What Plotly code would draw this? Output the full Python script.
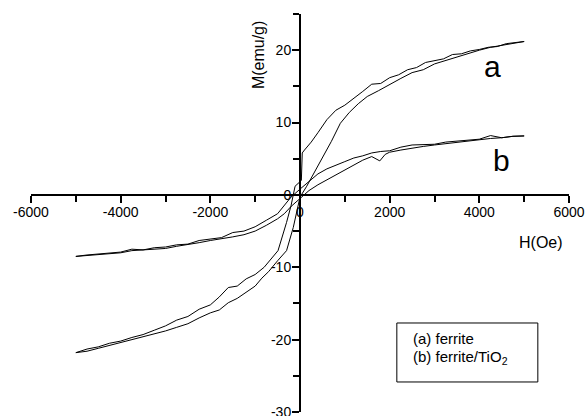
import plotly.graph_objects as go

# ---- data (H in Oe, M in emu/g) ----
a_desc_H = [5000, 4800, 4600, 4400, 4200, 4000, 3800, 3600, 3400, 3200, 3000, 2800, 2600, 2400, 2200, 2000,
            1800, 1600, 1400, 1200, 1000, 800, 600, 400, 250, 100, 50, 30, -60, -110, -200, -300, -490, -800,
            -1000, -1200, -1400, -1600, -1800, -2000, -2250, -2500, -2750, -3000, -3250, -3500, -3750, -4000,
            -4250, -4500, -4750, -5000]
a_desc_M = [21.2, 21.0, 20.9, 20.5, 20.4, 20.1, 19.9, 19.5, 19.4, 18.8, 18.5, 18.3, 17.6, 17.3, 16.6, 16.2,
            15.4, 15.3, 14.3, 13.3, 12.4, 11.7, 10.4, 8.6, 7.3, 6.2, 5.8, 2.0, 1.5, 1.2, -1.5, -3.8, -7.7, -10.0,
            -11.0, -11.6, -12.6, -12.8, -14.1, -15.2, -15.8, -16.8, -17.3, -18.1, -18.7, -19.3, -19.7, -20.2,
            -20.5, -21.0, -21.3, -21.8]

a_asc_H = [-5000, -4750, -4500, -4250, -4000, -3750, -3500, -3250, -3000, -2750, -2500, -2250, -2000,
           -1800, -1600, -1400, -1200, -1000, -850, -700, -500, -300, -150, 0,
           150, 300, 500, 700, 900, 1100, 1300, 1500, 1750, 2000,
           2250, 2500, 2750, 3000, 3250, 3500, 3750, 4000, 4250, 4500, 4750, 5000]
a_asc_M = [-21.8, -21.6, -21.2, -20.8, -20.4, -20.1, -19.7, -19.3, -18.8, -18.3, -17.8, -17.0, -16.3,
           -15.9, -14.9, -14.3, -13.5, -12.6, -11.5, -10.6, -9.1, -7.7, -4.5, -0.3,
           1.2, 2.9, 5.0, 7.4, 9.9, 11.4, 12.6, 13.6, 14.4, 15.3,
           16.1, 16.9, 17.3, 18.1, 18.6, 19.1, 19.6, 20.0, 20.4, 20.7, 21.0, 21.2]

b_desc_H = [5000, 4750, 4500, 4250, 4000, 3750, 3500, 3250, 3000, 2750, 2500, 2250, 2000, 1800, 1600, 1400,
            1200, 1000, 800, 600, 400, 200, 0, -200, -500, -750, -1000, -1250, -1500, -1750, -2000, -2250,
            -2500, -2750, -3000, -3250, -3500, -3750, -4000, -4250, -4500, -4750, -5000]
b_desc_M = [8.15, 8.1, 7.9, 8.2, 7.7, 7.6, 7.4, 7.3, 7.0, 6.9, 6.9, 6.6, 6.1, 6.0, 5.8, 5.4,
            5.1, 4.6, 4.1, 3.6, 2.9, 1.9, 0.8, -0.3, -2.6, -3.5, -4.4, -5.0, -5.2, -5.9, -6.1, -6.3,
            -6.8, -6.9, -7.2, -7.3, -7.6, -7.5, -7.9, -8.0, -8.2, -8.3, -8.5]

b_asc_H = [-5000, -4750, -4500, -4250, -4000, -3750, -3500, -3250, -3000, -2750, -2500, -2250, -2000,
           -1750, -1500, -1250, -1000, -750, -500, -350, -200, 0, 200, 400, 600, 800, 1000, 1200, 1400,
           1600, 1780, 1900, 2000, 2250, 2500, 2750, 3000, 3250, 3500, 3750, 4000, 4250, 4500, 4750, 5000]
b_asc_M = [-8.5, -8.4, -8.3, -8.1, -8.0, -7.7, -7.6, -7.5, -7.4, -7.1, -6.9, -6.6, -6.3,
           -6.1, -5.8, -5.5, -5.0, -4.2, -3.3, -2.6, -1.6, -0.5, 0.6, 1.4, 2.1, 2.8, 3.5, 4.2, 4.8,
           5.3, 4.7, 5.6, 5.9, 6.2, 6.5, 6.7, 6.9, 7.1, 7.2, 7.4, 7.6, 7.8, 7.9, 8.1, 8.15]

x_ticks = [-6000, -4000, -2000, 0, 2000, 4000, 6000]
x_labels = ["-6000", "-4000", "-2000", "0", "2000", "4000", "6000"]
y_ticks = [-30, -20, -10, 0, 10, 20]
y_labels = ["-30", "-20", "-10", "0", "10", "20"]

FONT = "Liberation Sans, Arial, sans-serif"
fig = go.Figure()
for hx, my in [(a_desc_H, a_desc_M), (a_asc_H, a_asc_M), (b_desc_H, b_desc_M), (b_asc_H, b_asc_M)]:
    fig.add_trace(go.Scatter(x=hx, y=my, mode="lines", line=dict(color="black", width=1), showlegend=False))

axis_common = dict(showgrid=False, zeroline=False, showline=True, linecolor="black", linewidth=2,
                   ticks="outside", ticklen=7, tickwidth=1.5, tickcolor="black",
                   tickfont=dict(family=FONT, size=14, color="black"), anchor="free", automargin=False,
                   ticklabeloverflow="allow")

fig.update_layout(
    width=588, height=416,
    margin=dict(l=31, r=19, t=14, b=4),
    paper_bgcolor="white", plot_bgcolor="white",
    xaxis=dict(range=[-6000, 6000], tickmode="array", tickvals=x_ticks, ticktext=x_labels,
               position=30 / 55, ticklabelstandoff=-3,
               minor=dict(tickmode="linear", tick0=0, dtick=1000, ticks="outside", ticklen=6,
                          tickwidth=1.5, tickcolor="black"),
               **axis_common),
    yaxis=dict(range=[-30, 25], tickmode="array", tickvals=y_ticks, ticktext=y_labels,
               position=0.5, ticklabelstandoff=-2,
               minor=dict(tickmode="linear", tick0=0, dtick=5, ticks="outside", ticklen=6,
                          tickwidth=1.5, tickcolor="black"),
               **axis_common),
    font=dict(family=FONT, color="black"),
)

fig.add_annotation(x=-940, y=19.3, text="M(emu/g)", textangle=-90, showarrow=False,
                   font=dict(family=FONT, size=16, color="black"))
fig.add_annotation(x=5370, y=-6.6, text="H(Oe)", showarrow=False,
                   font=dict(family=FONT, size=16, color="black"))
fig.add_annotation(x=4300, y=17.8, text="a", showarrow=False,
                   font=dict(family=FONT, size=30, color="black"))
fig.add_annotation(x=4500, y=4.7, text="b", showarrow=False,
                   font=dict(family=FONT, size=30, color="black"))

fig.add_shape(type="rect", x0=2160, x1=5305, y0=-25.85, y1=-17.7,
              line=dict(color="black", width=1), fillcolor="rgba(0,0,0,0)")
fig.add_annotation(x=2480, y=-19.9, text="(a) ferrite", showarrow=False, xanchor="left",
                   font=dict(family=FONT, size=15, color="black"))
fig.add_annotation(x=2480, y=-22.5, text="(b) ferrite/TiO<sub>2</sub>", showarrow=False, xanchor="left",
                   font=dict(family=FONT, size=15, color="black"))

fig.write_html("out.html", config={"displayModeBar": False},
               post_script="document.body.style.margin='0';document.body.style.padding='0';")
